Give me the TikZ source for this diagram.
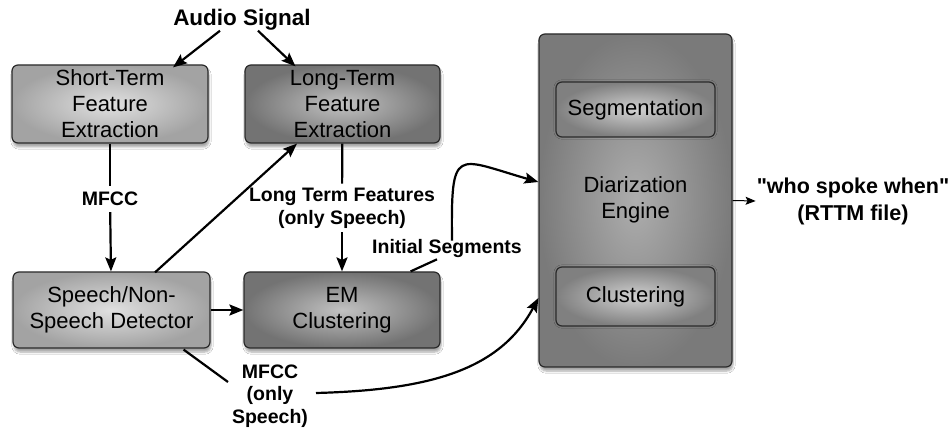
\documentclass[tikz,border=0pt]{standalone}
\usepackage{fontspec}
\setmainfont{Liberation Sans}[Ligatures=TeXOff]
\usetikzlibrary{arrows.meta,calc,shadows.blur}
\definecolor{bordercol}{HTML}{2A2A2A}
\tikzset{
  box/.style={draw=bordercol, line width=1.2pt, rounded corners=6pt, shading=radial,
    align=center, font=\fontsize{22}{26}\selectfont, inner sep=0pt,
    blur shadow={shadow xshift=1pt, shadow yshift=-4pt, shadow blur steps=6, shadow opacity=35}},
  lightbox/.style={box, inner color=black!12, outer color=black!36},
  darkbox/.style={box, inner color=black!24, outer color=black!55},
  bigbox/.style={box, inner color=black!32, outer color=black!52},
  innerbox/.style={box, inner color=black!18, outer color=black!50,
    blur shadow={shadow xshift=0pt, shadow yshift=0pt, shadow opacity=0}},
  lbl/.style={font=\bfseries\fontsize{19.5}{23}\selectfont, align=center, inner sep=2pt},
  arr/.style={line width=2.2pt, -{Stealth[length=14pt,width=11pt,inset=2.5pt]}},
  ln/.style={line width=2.2pt},
}
\begin{document}
\begin{tikzpicture}[x=1pt,y=-1pt]
\useasboundingbox[fill=white] (0,0) rectangle (951,430);
% nodes
\node[lightbox, minimum width=196pt, minimum height=78pt] (st) at (110,104) {Short-Term\\Feature\\Extraction};
\node[darkbox, minimum width=195pt, minimum height=78pt] (lt) at (342.5,104) {Long-Term\\Feature\\Extraction};
\node[lightbox, minimum width=197pt, minimum height=76pt] (sp) at (111.5,310) {Speech/Non-\\Speech Detector};
\node[darkbox, minimum width=196pt, minimum height=76pt] (em) at (342,310) {EM\\Clustering};
\node[bigbox, minimum width=193pt, minimum height=333pt] (de) at (635.5,200.5) {};
\node[innerbox, minimum width=159pt, minimum height=55pt] (seg) at (635.5,109.5) {Segmentation};
\node[innerbox, minimum width=159pt, minimum height=59pt] (clu) at (635.5,296.5) {Clustering};
\node[align=center, font=\fontsize{22}{26}\selectfont] (delbl) at (635.5,200) {Diarization\\Engine};
% labels
\node[font=\bfseries\fontsize{22.5}{26}\selectfont, inner sep=2pt] (audio) at (242,20) {Audio Signal};
\node[font=\bfseries\fontsize{21.5}{27}\selectfont, align=center, inner sep=1pt] (out) at (853,201) {"who spoke when"\\(RTTM file)};
\node[lbl, inner sep=6pt] (mfcc1) at (110,199) {MFCC};
\node[lbl, inner sep=4pt] (ltf) at (342,208) {Long Term Features\\(only Speech)};
\node[lbl] (init) at (447,249) {Initial Segments};
\node[lbl, font=\bfseries\fontsize{19.5}{22.5}\selectfont] (mfcc2) at (270,396) {MFCC\\(only\\Speech)};
% connectors
\draw[arr] ($(audio.south)+(-22,-2)$) -- ($(st.north)+(63,3)$);
\draw[arr] ($(audio.south)+(16,-2)$) -- ($(lt.north)+(-47,2)$);
\draw[ln] (st) -- (mfcc1);
\draw[arr] (mfcc1) -- (sp);
\draw[arr] ($(sp.north)+(43.5,1)$) -- ($(lt.south)+(-45.5,0)$);
\draw[ln] (lt) -- (ltf);
\draw[arr] (ltf) -- (em);
\draw[arr] (sp) -- (em);
\draw[ln] ($(em.north east)+(-30,0)$) -- ($(init.south)+(-10,-1)$);
\draw[arr] ($(init.north)+(5,3)$) .. controls (451,145) and (455,158) .. ($(de.west)+(0,-18.5)$);
\draw[ln] ($(sp.south east)+(-27,1)$) -- ($(mfcc2.center)+(-42,-14)$);
\draw[arr] ($(mfcc2.center)+(46,-3)$) .. controls (430,390) and (500,370) .. ($(de.west)+(0,97.5)$);
\draw[line width=1pt, -{Stealth[length=10pt,width=8pt,inset=2pt]}] (de.east) -- (out.west);
\end{tikzpicture}
\end{document}
